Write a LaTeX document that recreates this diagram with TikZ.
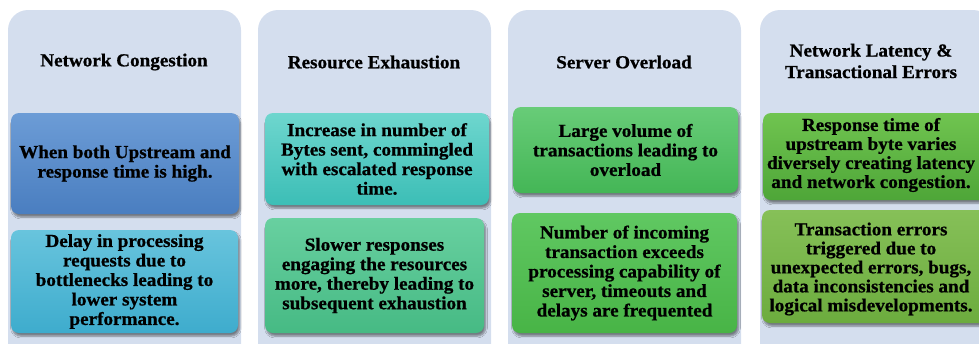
\documentclass[tikz,border=0pt]{standalone}
\usepackage{fontspec}
\setmainfont{Liberation Serif}
\newfontfamily\boxfont[BoldFeatures={FakeBold=0.8,FakeStretch=1.04}]{Liberation Serif}
\usetikzlibrary{shadows.blur}
\definecolor{colbg}{HTML}{D4DEEE}
\tikzset{
  column/.style={fill=colbg, draw=none, rounded corners=20pt},
  cbox/.style={rectangle, rounded corners=8pt, draw=none, inner sep=0pt, align=center,
    font=\boxfont\bfseries\fontsize{18.4}{19.5}\selectfont,
    blur shadow={shadow xshift=1.5pt, shadow yshift=-3pt, shadow opacity=45, shadow blur steps=6}},
  ctitle/.style={inner sep=0pt, align=center, font=\boxfont\bfseries\fontsize{18.4}{21.5}\selectfont},
  btext/.style={inner sep=0pt, align=center, font=\boxfont\bfseries\fontsize{18.4}{19}\selectfont},
}
\begin{document}
\begin{tikzpicture}[x=1pt,y=-1pt]
\useasboundingbox (0,0) rectangle (979,343);
\clip (0,0) rectangle (979,343);
% columns
\path[column] (8,10) rectangle (241,370);
\path[column] (258,10) rectangle (491,370);
\path[column] (508,10) rectangle (741,370);
\path[column] (760,10) rectangle (993,370);
% titles
\node[ctitle] (t1) at (124,62) {Network Congestion};
\node[ctitle] (t2) at (374,62) {Resource Exhaustion};
\node[ctitle] (t3) at (624,62) {Server Overload};
\node[ctitle] (t4) at (871,61) {Network Latency \&\\Transactional Errors};
% column 1
\node[cbox, minimum width=228pt, minimum height=101pt, top color={rgb,255:red,108;green,156;blue,214}, bottom color={rgb,255:red,74;green,126;blue,192}] (a1) at (125,163.5)
  {When both Upstream and\\response time is high.};
\node[cbox, minimum width=227pt, minimum height=103pt, top color={rgb,255:red,104;green,196;blue,221}, bottom color={rgb,255:red,62;green,172;blue,205}] (b1) at (124.5,281.5)
  {Delay in processing\\requests due to\\bottlenecks leading to\\lower system\\performance.};
% column 2
\node[cbox, minimum width=224pt, minimum height=92pt, top color={rgb,255:red,110;green,214;blue,206}, bottom color={rgb,255:red,60;green,190;blue,182}] (a2) at (377,159)
  {Increase in number of\\Bytes sent, commingled\\with escalated response\\time.};
\node[cbox, minimum width=219pt, minimum height=115pt, top color={rgb,255:red,104;green,208;blue,160}, bottom color={rgb,255:red,70;green,186;blue,132}] (b2) at (374.5,275.5)
  {Slower responses\\engaging the resources\\more, thereby leading to\\subsequent exhaustion};
% column 3
\node[cbox, minimum width=225pt, minimum height=86pt, top color={rgb,255:red,104;green,204;blue,120}, bottom color={rgb,255:red,68;green,182;blue,86}] (a3) at (625.5,150)
  {Large volume of\\transactions leading to\\overload};
\node[cbox, minimum width=225pt, minimum height=120pt, top color={rgb,255:red,96;green,200;blue,98}, bottom color={rgb,255:red,72;green,180;blue,70}] (b3) at (624.5,273)
  {Number of incoming\\transaction exceeds\\processing capability of\\server, timeouts and\\delays are frequented};
% column 4
\node[cbox, minimum width=226pt, minimum height=87pt, top color={rgb,255:red,112;green,196;blue,80}, bottom color={rgb,255:red,78;green,166;blue,56}] (a4) at (876,156.5)
  {};
\node[cbox, minimum width=226pt, minimum height=113pt, top color={rgb,255:red,134;green,192;blue,88}, bottom color={rgb,255:red,108;green,172;blue,62}] (b4) at (875,266.5)
  {};
\node[btext] (a4t) at (871,155)
  {Response time of\\upstream byte varies\\diversely creating latency\\and network congestion.};
\node[btext] (b4t) at (871,269)
  {Transaction errors\\triggered due to\\unexpected errors, bugs,\\data inconsistencies and\\logical misdevelopments.};
\end{tikzpicture}
\end{document}
